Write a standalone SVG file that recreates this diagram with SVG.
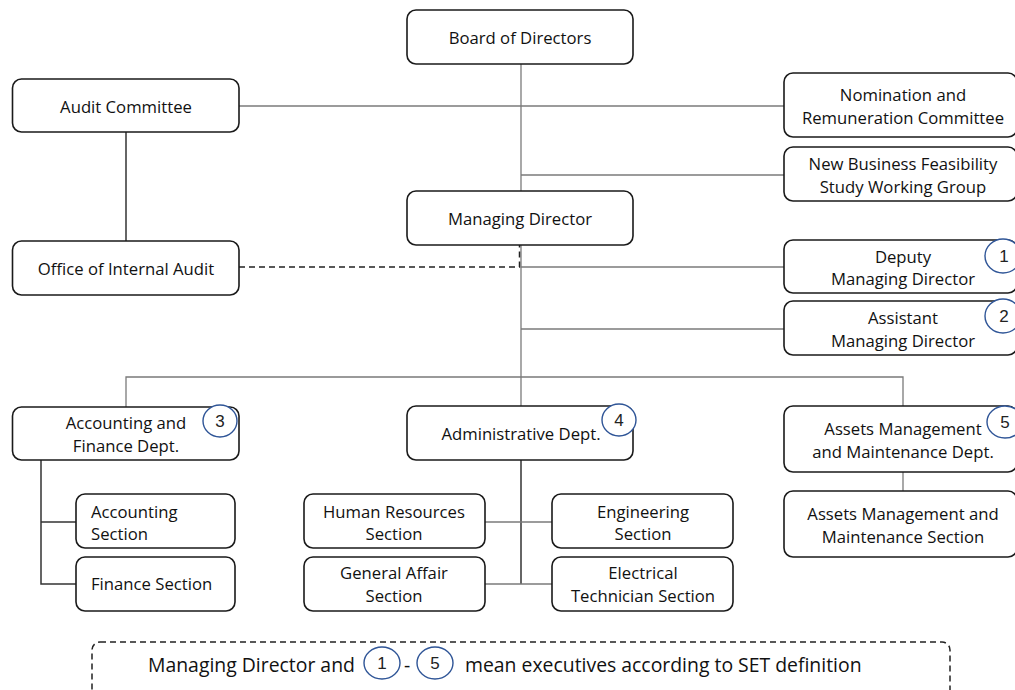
<svg xmlns="http://www.w3.org/2000/svg" width="1015" height="690" viewBox="0 0 1015 690">
<style>
.box{fill:#fff;stroke:#1a1a1a;stroke-width:1.6}
.t{font-family:"Open Sans","Noto Sans",sans-serif;font-size:16.7px;fill:#111;text-anchor:middle;dominant-baseline:central}
.tl{text-anchor:start}
.c{fill:#fff;stroke:#2F5597;stroke-width:1.4}
.n{font-family:"Liberation Sans",Arial,sans-serif;font-size:17px;fill:#222;text-anchor:middle;dominant-baseline:central}
.ln{stroke:#7a7a7a;stroke-width:1.3;fill:none}
.dk{stroke:#333;stroke-width:1.5;fill:none}
.ds{stroke:#222;stroke-width:1.5;fill:none;stroke-dasharray:6 4}
.f{font-family:"Open Sans","Noto Sans",sans-serif;font-size:19.4px;fill:#111;dominant-baseline:central}
</style>
<rect width="1015" height="690" fill="#fff"/>
<g id="connectors">
<line class="ln" x1="521" y1="64" x2="521" y2="377"/>
<line class="ln" x1="239" y1="106" x2="784" y2="106"/>
<line class="ln" x1="521" y1="175" x2="784" y2="175"/>
<line class="ln" x1="521" y1="267" x2="784" y2="267"/>
<line class="ln" x1="521" y1="329" x2="784" y2="329"/>
<line class="dk" x1="126" y1="132" x2="126" y2="241"/>
<path class="ds" d="M239 267 H519.5 V245"/>
<path class="ln" d="M126 407 V377 H903 V406"/>
<line class="ln" x1="521" y1="377" x2="521" y2="406"/>
<path class="dk" d="M41 460 V584 H76 M41 522 H76"/>
<line class="dk" x1="521" y1="460" x2="521" y2="584"/>
<line class="ln" x1="485" y1="522" x2="552" y2="522"/>
<line class="ln" x1="485" y1="584" x2="552" y2="584"/>
<line class="ln" x1="903" y1="472" x2="903" y2="491"/>
</g>
<g id="board"><rect class="box" x="407" y="10" width="226" height="54" rx="9"/><text class="t" x="520" y="37">Board of Directors</text></g>
<g id="audit-committee"><rect class="box" x="12.5" y="79" width="226.5" height="53" rx="9"/><text class="t" x="126" y="106">Audit Committee</text></g>
<g id="nomination"><rect class="box" x="784" y="73" width="233" height="64" rx="9"/><text class="t" x="903" y="94">Nomination and</text><text class="t" x="903" y="117">Remuneration Committee</text></g>
<g id="new-business"><rect class="box" x="784" y="147" width="233" height="54" rx="9"/><text class="t" x="903" y="163">New Business Feasibility</text><text class="t" x="903" y="186">Study Working Group</text></g>
<g id="managing-director"><rect class="box" x="407" y="191" width="226" height="54" rx="9"/><text class="t" x="520" y="218">Managing Director</text></g>
<g id="internal-audit"><rect class="box" x="12.5" y="241" width="226.5" height="54" rx="9"/><text class="t" x="126" y="268">Office of Internal Audit</text></g>
<g id="deputy"><rect class="box" x="784" y="240" width="233" height="53" rx="9"/><text class="t" x="903" y="256">Deputy</text><text class="t" x="903" y="278">Managing Director</text><ellipse class="c" cx="1003" cy="256" rx="18" ry="17"/><text class="n" x="1004" y="256">1</text></g>
<g id="assistant"><rect class="box" x="784" y="301" width="233" height="54" rx="9"/><text class="t" x="903" y="317">Assistant</text><text class="t" x="903" y="340">Managing Director</text><ellipse class="c" cx="1003" cy="316" rx="18" ry="17"/><text class="n" x="1004" y="316">2</text></g>
<g id="accounting-finance"><rect class="box" x="12.5" y="407" width="226.5" height="53" rx="9"/><text class="t" x="126" y="422">Accounting and</text><text class="t" x="126" y="445">Finance Dept.</text><ellipse class="c" cx="220" cy="421" rx="17" ry="16"/><text class="n" x="220" y="421">3</text></g>
<g id="administrative"><rect class="box" x="407" y="406" width="226" height="54" rx="9"/><text class="t" x="521" y="433">Administrative Dept.</text><ellipse class="c" cx="619" cy="420" rx="17" ry="16"/><text class="n" x="619" y="420">4</text></g>
<g id="assets-dept"><rect class="box" x="784" y="406" width="233" height="66" rx="9"/><text class="t" x="903" y="428">Assets Management</text><text class="t" x="903" y="451">and Maintenance Dept.</text><ellipse class="c" cx="1005" cy="422" rx="18" ry="16"/><text class="n" x="1005" y="422">5</text></g>
<g id="accounting-section"><rect class="box" x="76" y="494" width="159" height="54" rx="9"/><text class="t tl" x="91" y="511">Accounting</text><text class="t tl" x="91" y="533">Section</text></g>
<g id="finance-section"><rect class="box" x="76" y="557" width="159" height="54" rx="9"/><text class="t tl" x="91" y="583">Finance Section</text></g>
<g id="hr-section"><rect class="box" x="304" y="494" width="181" height="54" rx="9"/><text class="t" x="394" y="511">Human Resources</text><text class="t" x="394" y="533">Section</text></g>
<g id="general-affair"><rect class="box" x="304" y="557" width="181" height="54" rx="9"/><text class="t" x="394" y="572">General Affair</text><text class="t" x="394" y="595">Section</text></g>
<g id="engineering"><rect class="box" x="552" y="494" width="181" height="54" rx="9"/><text class="t" x="643" y="511">Engineering</text><text class="t" x="643" y="533">Section</text></g>
<g id="electrical"><rect class="box" x="552" y="557" width="181" height="54" rx="9"/><text class="t" x="643" y="572">Electrical</text><text class="t" x="643" y="595">Technician Section</text></g>
<g id="assets-section"><rect class="box" x="784" y="491" width="233" height="66" rx="9"/><text class="t" x="903" y="513">Assets Management and</text><text class="t" x="903" y="536">Maintenance Section</text></g>
<g id="legend">
<rect x="92" y="642" width="858" height="70" rx="8" fill="none" stroke="#222" stroke-width="1.5" stroke-dasharray="6 4"/>
<text class="f" x="148" y="664">Managing Director and</text>
<ellipse class="c" cx="382" cy="663" rx="18" ry="16"/><text class="n" x="382" y="663">1</text>
<text class="f" x="404" y="664">-</text>
<ellipse class="c" cx="435" cy="663" rx="18" ry="16"/><text class="n" x="435" y="663">5</text>
<text class="f" x="465" y="664">mean executives according to SET definition</text>
</g>
</svg>
